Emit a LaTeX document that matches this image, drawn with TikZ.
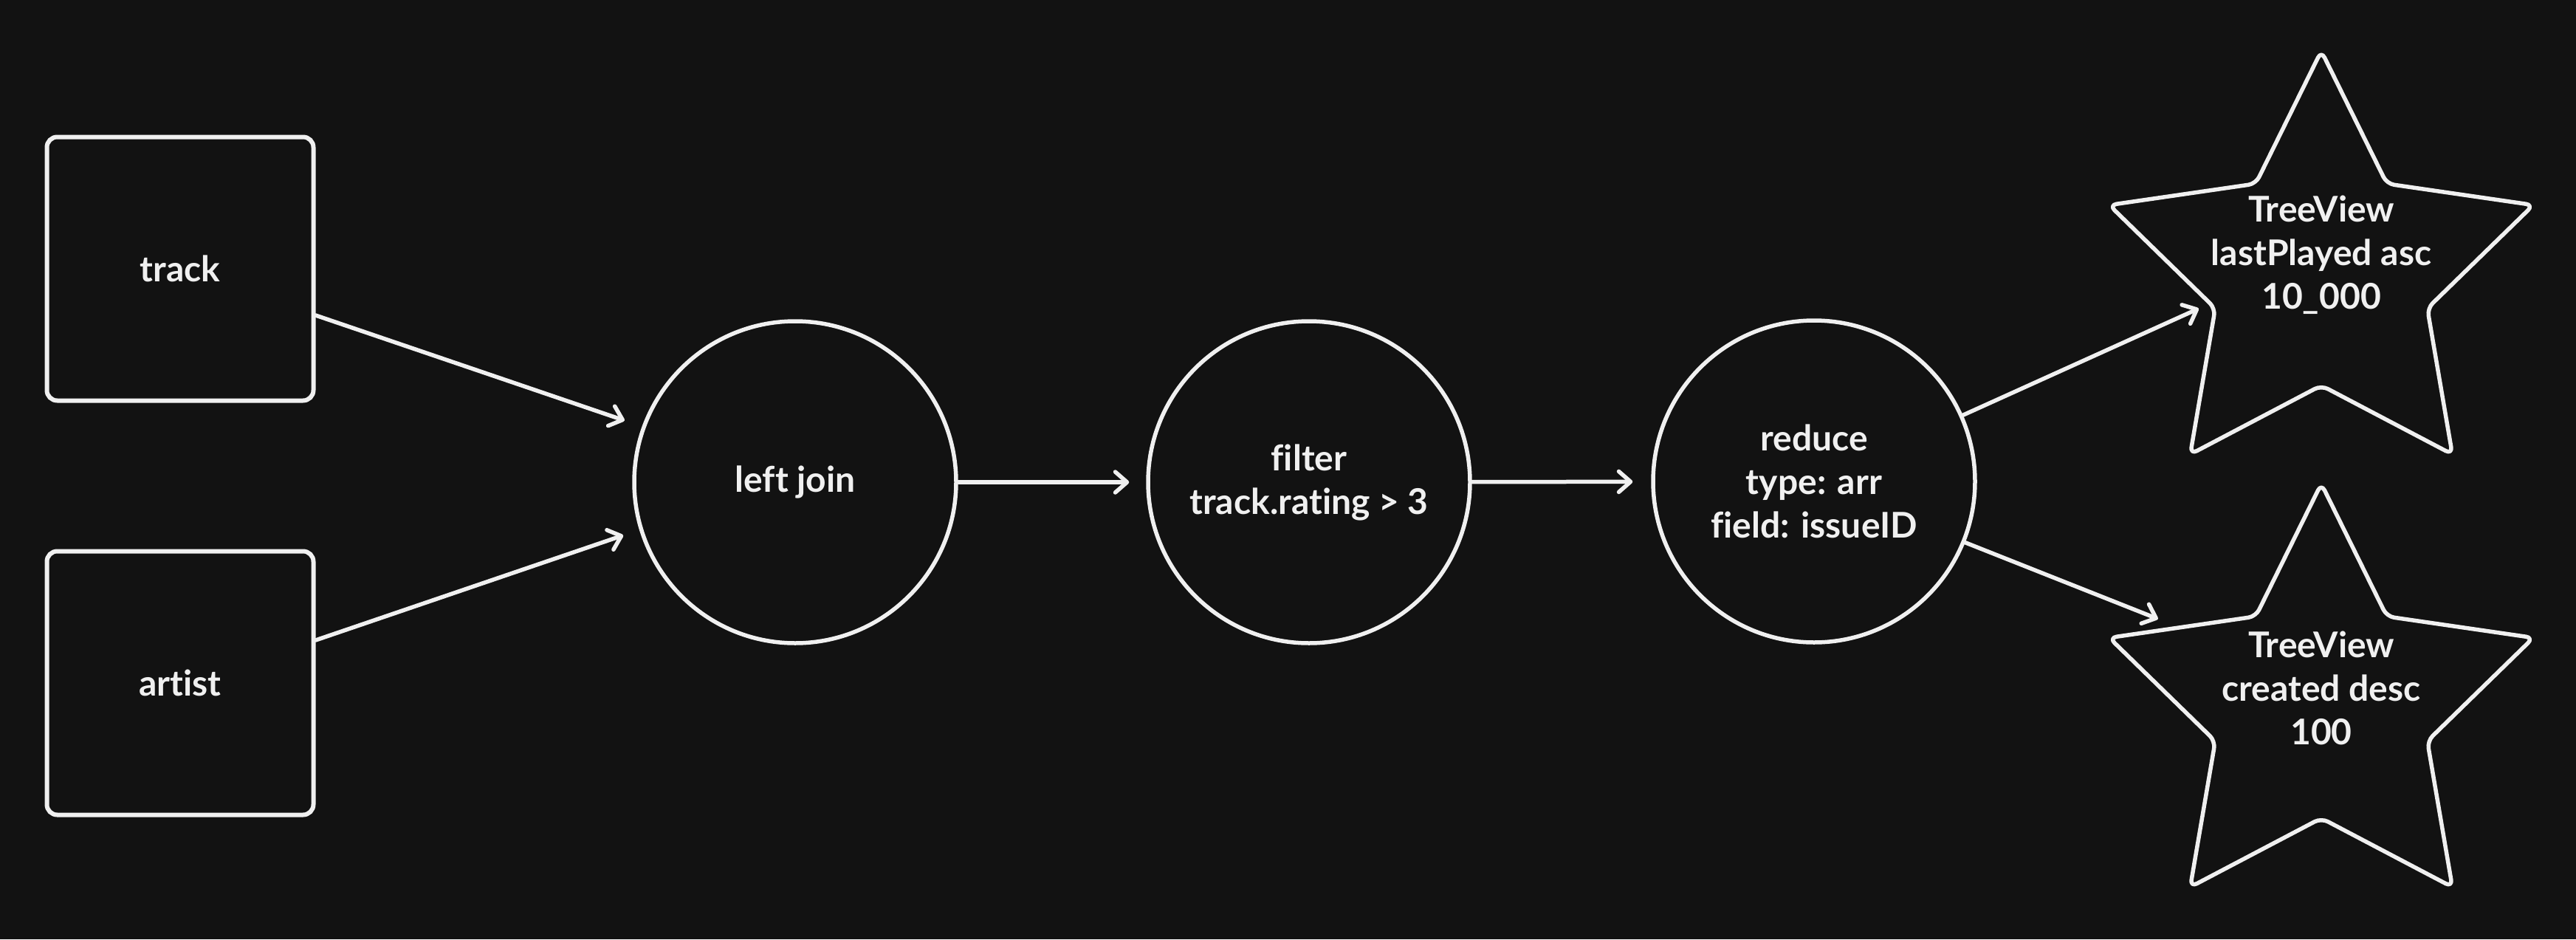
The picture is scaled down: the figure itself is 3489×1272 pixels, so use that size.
\documentclass[tikz,border=0pt]{standalone}
\usepackage{fontspec}
\setmainfont{Lato}[Ligatures={NoCommon,NoRare,NoContextual}]
\usetikzlibrary{arrows.meta,shapes.geometric,calc}
\definecolor{bg}{HTML}{121212}
\definecolor{fg}{HTML}{F0F0F0}
\begin{document}
\begin{tikzpicture}[x=1pt,y=-1pt,
  every node/.style={text=fg, font=\fontsize{48}{59}\selectfont\bfseries, align=center},
  box/.style={draw=fg, line width=6pt, rounded corners=14pt, minimum width=361pt, minimum height=357pt, inner sep=0pt},
  op/.style={draw=fg, line width=5.5pt, circle, minimum size=436pt, inner sep=0pt},
  starshape/.style={draw=fg, line width=5.5pt, star, star points=5, star point ratio=2, minimum size=604pt, inner sep=0pt, rounded corners=10pt, line join=round},
  link/.style={draw=fg, line width=5.5pt, line cap=round, -{Straight Barb[length=16pt,width=28pt,line cap=round,line join=round]}},
]
\fill[bg] (0,0) rectangle (3489,1272);
\useasboundingbox (0,0) rectangle (3489,1272);

\node[box] (track) at (244,364) {track};
\node[box] (artist) at (244,925) {artist};
\node[op] (join) at (1077,653) {left join};
\node[op] (filter) at (1773,653) {filter\\track.rating > 3};
\node[op] (reduce) at (2457,652) {reduce\\type: arr\\field: issueID};
\node[starshape] (s1) at (3144,371) {};
\node[starshape] (s2) at (3144,957) {};
\node (s1t) at (3144,345) {TreeView\\lastPlayed asc\\10\_000};
\node (s2t) at (3144,932) {TreeView\\created desc\\100};

\coordinate (trackout) at ($(track.east)+(0,63)$);
\coordinate (artistout) at ($(artist.east)+(0,-58)$);
\draw[link, shorten >=25pt] (trackout) -- (join.160.5);
\draw[link, shorten >=23pt] (artistout) -- (join.197.9);
\draw[link, shorten >=23pt] (join) -- (filter);
\draw[link, shorten >=25pt] (filter) -- (reduce);
\draw[link, shorten >=14pt] (reduce.24.4) -- (s1.195.5);
\draw[link, shorten >=26pt] (reduce.-22.1) -- (s2.151.7);
\end{tikzpicture}
\end{document}
